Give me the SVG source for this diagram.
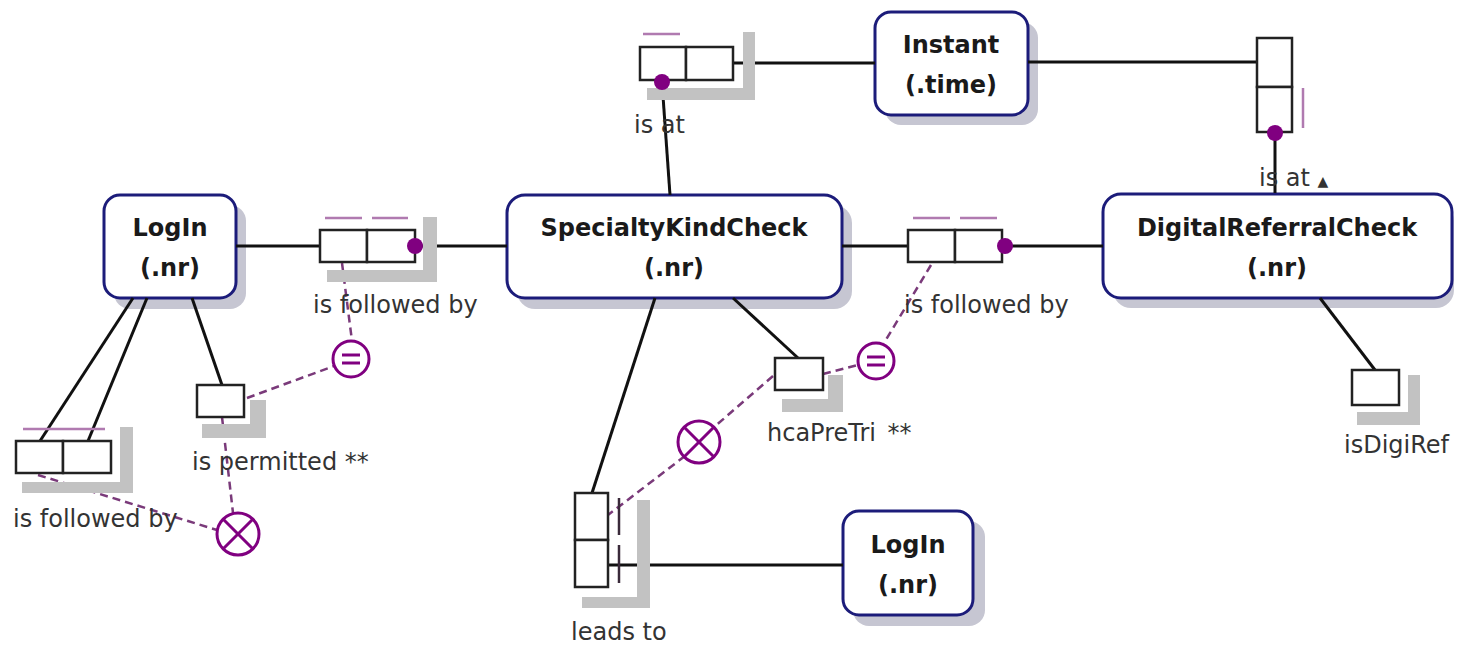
<svg xmlns="http://www.w3.org/2000/svg" width="1461" height="647" viewBox="0 0 1461 647">
<defs>
<style>
.ent{fill:#fff;stroke:#1c1c7a;stroke-width:3}
.eshadow{fill:#c6c6d2}
.etext{font-family:"DejaVu Sans",Verdana,sans-serif;font-weight:bold;font-size:24px;fill:#1a1a1a;text-anchor:middle}
.lbl{font-family:"DejaVu Sans",Verdana,sans-serif;font-size:24px;fill:#333}
.role{fill:#fff;stroke:#222;stroke-width:2.5}
.pshadow{fill:#c2c2c2}
.conn{stroke:#111;stroke-width:3;fill:none}
.uc{stroke:#b07ab0;stroke-width:2.5;fill:none}
.dash{stroke:#7a3a7a;stroke-width:2.5;stroke-dasharray:8 5;fill:none}
.dot{fill:#800080}
.cons{fill:#fff;stroke:#800080;stroke-width:3}
.cmark{stroke:#800080;stroke-width:3;fill:none}
</style>
</defs>
<rect width="1461" height="647" fill="#fff"/>

<g id="node-instant">
<rect class="eshadow" x="885" y="22" width="153" height="103" rx="16"/>
<rect class="ent" x="875" y="12" width="153" height="103" rx="16"/>
<text class="etext" x="951" y="53">Instant</text>
<text class="etext" x="951" y="93">(.time)</text>
</g>

<g id="node-login1">
<rect class="eshadow" x="114" y="205" width="132" height="104" rx="16"/>
<rect class="ent" x="104" y="195" width="132" height="103" rx="16"/>
<text class="etext" x="170" y="236">LogIn</text>
<text class="etext" x="170" y="276">(.nr)</text>
</g>

<g id="node-specialtykindcheck">
<rect class="eshadow" x="517" y="205" width="335" height="104" rx="18"/>
<rect class="ent" x="507" y="195" width="335" height="103" rx="18"/>
<text class="etext" x="674" y="236">SpecialtyKindCheck</text>
<text class="etext" x="674" y="276">(.nr)</text>
</g>

<g id="node-digitalreferralcheck">
<rect class="eshadow" x="1113" y="203" width="341" height="105" rx="18"/>
<rect class="ent" x="1103" y="194" width="349" height="104" rx="18"/>
<text class="etext" x="1277" y="236">DigitalReferralCheck</text>
<text class="etext" x="1277" y="276">(.nr)</text>
</g>

<g id="node-login2">
<rect class="eshadow" x="853" y="521" width="132" height="105" rx="16"/>
<rect class="ent" x="843" y="511" width="130" height="104" rx="16"/>
<text class="etext" x="908" y="553">LogIn</text>
<text class="etext" x="908" y="593">(.nr)</text>
</g>

<g id="connectors">
<line class="conn" x1="236" y1="246" x2="320" y2="246"/>
<line class="conn" x1="415" y1="246" x2="507" y2="246"/>
<line class="conn" x1="842" y1="246" x2="908" y2="246"/>
<line class="conn" x1="1005" y1="246" x2="1103" y2="246"/>
<line class="conn" x1="733" y1="63" x2="875" y2="63"/>
<line class="conn" x1="662" y1="82" x2="670" y2="195"/>
<line class="conn" x1="1028" y1="62" x2="1257" y2="62"/>
<line class="conn" x1="1275" y1="133" x2="1275" y2="193"/>
<line class="conn" x1="133" y1="298" x2="40" y2="441"/>
<line class="conn" x1="147" y1="298" x2="88" y2="441"/>
<line class="conn" x1="192" y1="298" x2="222" y2="385"/>
<line class="conn" x1="655" y1="298" x2="592" y2="493"/>
<line class="conn" x1="733" y1="298" x2="798" y2="358"/>
<line class="conn" x1="608" y1="565" x2="843" y2="565"/>
<line class="conn" x1="1320" y1="298" x2="1375" y2="370"/>
<line class="dash" x1="342" y1="263" x2="352" y2="341"/>
<line class="dash" x1="247" y1="398" x2="334" y2="366"/>
<line class="dash" x1="222" y1="417" x2="233" y2="513"/>
<line class="dash" x1="38" y1="475" x2="217" y2="530"/>
<line class="dash" x1="931" y1="265" x2="884" y2="343"/>
<line class="dash" x1="823" y1="374" x2="858" y2="365"/>
<line class="dash" x1="773" y1="376" x2="713" y2="428"/>
<line class="dash" x1="685" y1="456" x2="608" y2="515"/>
</g>

<g id="fact-isat-top">
<rect class="pshadow" x="743" y="32" width="12" height="68"/>
<rect class="pshadow" x="647" y="88" width="108" height="12"/>
<line class="uc" x1="643" y1="34" x2="680" y2="34"/>
<rect class="role" x="640" y="47" width="46" height="33"/>
<rect class="role" x="686" y="47" width="47" height="33"/>
<circle class="dot" cx="662" cy="82" r="8"/>
<text class="lbl" x="634" y="133">is at</text>
</g>

<g id="fact-isat-right">
<rect class="role" x="1257" y="38" width="35" height="49"/>
<rect class="role" x="1257" y="87" width="35" height="45"/>
<line class="uc" x1="1303" y1="88" x2="1303" y2="128"/>
<circle class="dot" cx="1275" cy="133" r="8"/>
<text class="lbl" x="1259" y="186">is at <tspan font-size="14">▲</tspan></text>
</g>

<g id="fact-followed-1">
<rect class="pshadow" x="423" y="217" width="14" height="65"/>
<rect class="pshadow" x="327" y="270" width="110" height="12"/>
<line class="uc" x1="325" y1="218" x2="362" y2="218"/>
<line class="uc" x1="372" y1="218" x2="408" y2="218"/>
<rect class="role" x="320" y="230" width="47" height="32"/>
<rect class="role" x="367" y="230" width="48" height="32"/>
<circle class="dot" cx="415" cy="246" r="8"/>
<text class="lbl" x="313" y="313">is followed by</text>
</g>

<g id="fact-followed-2">
<line class="uc" x1="913" y1="218" x2="950" y2="218"/>
<line class="uc" x1="960" y1="218" x2="997" y2="218"/>
<rect class="role" x="908" y="230" width="47" height="32"/>
<rect class="role" x="955" y="230" width="47" height="32"/>
<circle class="dot" cx="1005" cy="246" r="8"/>
<text class="lbl" x="904" y="313">is followed by</text>
</g>

<g id="fact-followed-3">
<rect class="pshadow" x="120" y="427" width="13" height="66"/>
<rect class="pshadow" x="22" y="482" width="111" height="11"/>
<line class="uc" x1="23" y1="429" x2="105" y2="429"/>
<rect class="role" x="16" y="441" width="47" height="32"/>
<rect class="role" x="63" y="441" width="48" height="32"/>
<text class="lbl" x="13" y="527">is followed by</text>
</g>

<g id="fact-permitted">
<rect class="pshadow" x="250" y="400" width="16" height="38"/>
<rect class="pshadow" x="202" y="424" width="64" height="14"/>
<rect class="role" x="197" y="385" width="47" height="32"/>
<text class="lbl" x="192" y="470">is permitted **</text>
</g>

<g id="fact-hcapretri">
<rect class="pshadow" x="828" y="375" width="15" height="37"/>
<rect class="pshadow" x="782" y="399" width="61" height="13"/>
<rect class="role" x="775" y="358" width="48" height="32"/>
<text class="lbl" x="767" y="441">hcaPreTri <tspan dx="4">**</tspan></text>
</g>

<g id="fact-isdigiref">
<rect class="pshadow" x="1408" y="375" width="12" height="50"/>
<rect class="pshadow" x="1357" y="412" width="63" height="13"/>
<rect class="role" x="1352" y="370" width="47" height="35"/>
<text class="lbl" x="1344" y="453">isDigiRef</text>
</g>

<g id="fact-leadsto">
<rect class="pshadow" x="637" y="500" width="13" height="108"/>
<rect class="pshadow" x="582" y="597" width="68" height="11"/>
<rect class="role" x="575" y="493" width="33" height="47"/>
<rect class="role" x="575" y="540" width="33" height="47"/>
<line stroke="#3a2a3a" stroke-width="2.5" x1="619" y1="498" x2="619" y2="535"/>
<line stroke="#3a2a3a" stroke-width="2.5" x1="619" y1="545" x2="619" y2="583"/>
<text class="lbl" x="571" y="640">leads to</text>
</g>

<g id="constraint-eq1">
<circle class="cons" cx="351" cy="359" r="18"/>
<line class="cmark" x1="342" y1="355" x2="360" y2="355"/>
<line class="cmark" x1="342" y1="363" x2="360" y2="363"/>
</g>
<g id="constraint-eq2">
<circle class="cons" cx="876" cy="361" r="18"/>
<line class="cmark" x1="867" y1="357" x2="885" y2="357"/>
<line class="cmark" x1="867" y1="365" x2="885" y2="365"/>
</g>
<g id="constraint-x1">
<circle class="cons" cx="238" cy="534" r="21"/>
<line class="cmark" x1="223" y1="519" x2="253" y2="549"/>
<line class="cmark" x1="253" y1="519" x2="223" y2="549"/>
</g>
<g id="constraint-x2">
<circle class="cons" cx="699" cy="442" r="21"/>
<line class="cmark" x1="684" y1="427" x2="714" y2="457"/>
<line class="cmark" x1="714" y1="427" x2="684" y2="457"/>
</g>
</svg>
